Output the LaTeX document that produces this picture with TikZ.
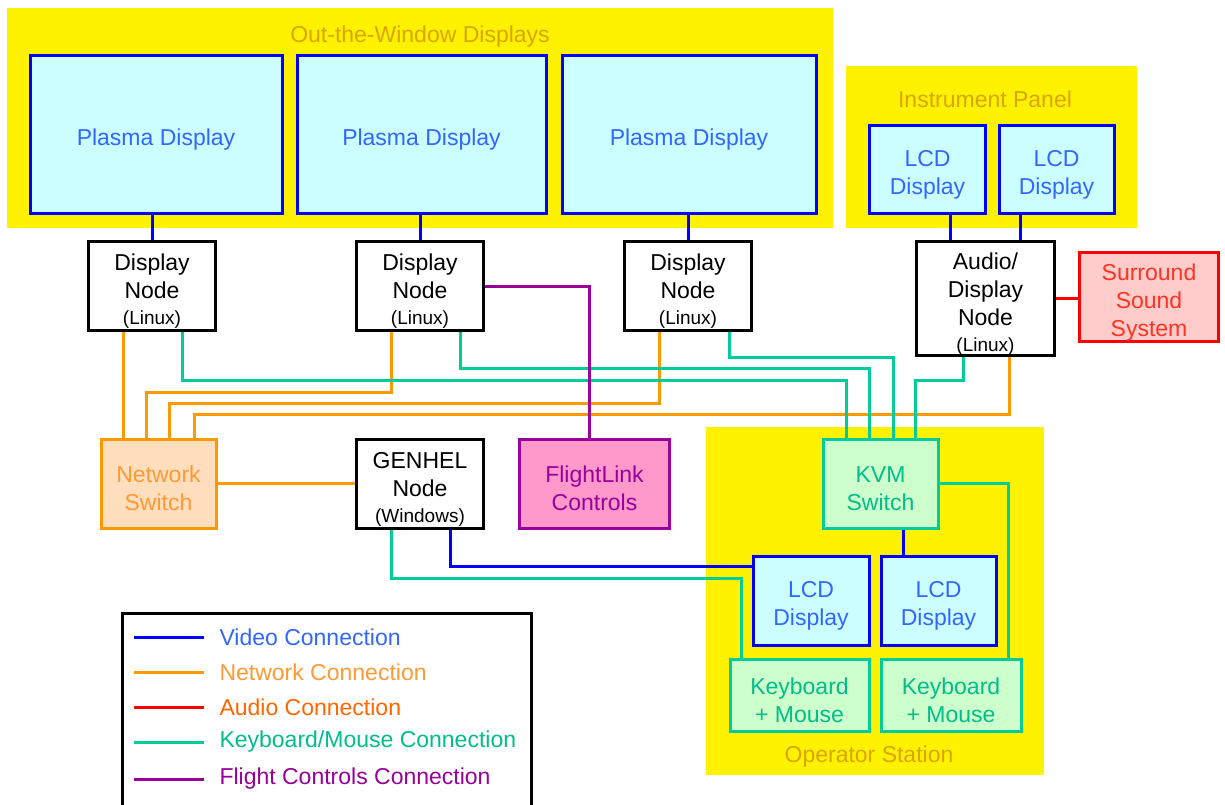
\documentclass[tikz,border=0pt]{standalone}
\usepackage{fontspec}
\setmainfont{Liberation Sans}
\usepackage{tikz}
\usepackage{color}

\definecolor{vidc}{RGB}{0,0,255}
\definecolor{netc}{RGB}{255,153,0}
\definecolor{audc}{RGB}{255,0,0}
\definecolor{kmc}{RGB}{0,204,153}
\definecolor{fltc}{RGB}{153,0,153}
\definecolor{vidtxt}{RGB}{51,102,255}
\definecolor{nettxt}{RGB}{255,153,51}
\definecolor{audtxt}{RGB}{255,102,0}
\definecolor{ssstxt}{RGB}{255,51,34}
\definecolor{kmtxt}{RGB}{0,190,140}
\definecolor{flttxt}{RGB}{153,0,153}
\definecolor{titlec}{RGB}{218,165,0}
\definecolor{scrfill}{RGB}{204,255,255}
\definecolor{nswfill}{RGB}{255,222,190}
\definecolor{sssfill}{RGB}{255,204,204}
\definecolor{fltfill}{RGB}{255,153,204}
\definecolor{kvmfill}{RGB}{204,255,204}

\newcommand{\ostag}[1]{\\[-2pt]{\fontsize{19}{22}\selectfont(#1)}}
\newcommand{\tstrut}{\rule{0pt}{27pt}}

\begin{document}
\begin{tikzpicture}[x=1pt,y=-1pt,
  every node/.style={font=\fontsize{23}{28}\selectfont},
  unit/.style={draw,line width=3pt,align=center,inner sep=0pt},
  screen/.style={unit,draw=vidc,fill=scrfill,text=vidtxt},
  pc/.style={unit,draw=black,fill=white,minimum width=127pt,minimum height=89pt},
  area/.style={fill=yellow},
  areatitle/.style={text=titlec},
  wire/.style={line width=3pt},
  vid/.style={wire,vidc}, net/.style={wire,netc}, aud/.style={wire,audc},
  km/.style={wire,kmc}, flt/.style={wire,fltc}]
\useasboundingbox (0,0) rectangle (1225,804);
\clip (0,0) rectangle (1225,804);

% yellow areas
\fill[area] (7,8) rectangle (833,228);
\fill[area] (846,66) rectangle (1137,228);
\fill[area] (706,427) rectangle (1044,775);
\node[areatitle] (otwt) at (420,37) {Out-the-Window Displays};
\node[areatitle] (ipt) at (985,99) {Instrument Panel};
\node[areatitle] (opt) at (869,757) {Operator Station};

% displays
\node[screen,minimum width=252pt,minimum height=158pt] (pd1) at (156,134) {\tstrut Plasma Display};
\node[screen,minimum width=249pt,minimum height=158pt] (pd2) at (421.5,134) {\tstrut Plasma Display};
\node[screen,minimum width=254pt,minimum height=158pt] (pd3) at (689,134) {\tstrut Plasma Display};
\node[screen,minimum width=116pt,minimum height=88pt] (lcdA) at (927.5,169) {\tstrut LCD\\Display};
\node[screen,minimum width=115pt,minimum height=88pt] (lcdB) at (1056.5,169) {\tstrut LCD\\Display};

% computers
\node[pc] (dn1) at (152,286) {\tstrut Display\\Node\ostag{Linux}};
\node[pc] (dn2) at (420,286) {\tstrut Display\\Node\ostag{Linux}};
\node[pc] (dn3) at (688,286) {\tstrut Display\\Node\ostag{Linux}};
\node[pc,minimum width=138pt,minimum height=114pt] (adn) at (985.5,298.5) {\tstrut Audio/\\Display\\Node\ostag{Linux}};
\node[pc] (gen) at (420,483.5) {\tstrut GENHEL\\Node\ostag{Windows}};

% devices
\node[unit,draw=audc,fill=sssfill,text=ssstxt,minimum width=139pt,minimum height=89pt] (sss) at (1149,297) {\tstrut Surround\\Sound\\System};
\node[unit,draw=netc,fill=nswfill,text=nettxt,minimum width=115pt,minimum height=89pt] (nsw) at (158.5,483.5) {\tstrut Network\\Switch};
\node[unit,draw=fltc,fill=fltfill,text=flttxt,minimum width=150pt,minimum height=89pt] (flc) at (594.5,483.5) {\tstrut FlightLink\\Controls};
\node[unit,draw=kmc,fill=kvmfill,text=kmtxt,minimum width=115pt,minimum height=89pt] (kvm) at (880.5,483.5) {\tstrut KVM\\Switch};
\node[screen,minimum width=116pt,minimum height=89pt] (lcdC) at (811,600.5) {\tstrut LCD\\Display};
\node[screen,minimum width=115pt,minimum height=89pt] (lcdD) at (938.5,600.5) {\tstrut LCD\\Display};
\node[unit,draw=kmc,fill=kvmfill,text=kmtxt,minimum width=139pt,minimum height=72pt] (kmA) at (799.5,695) {\tstrut Keyboard\\+ Mouse};
\node[unit,draw=kmc,fill=kvmfill,text=kmtxt,minimum width=140pt,minimum height=72pt] (kmB) at (951,695) {\tstrut Keyboard\\+ Mouse};

% video
\draw[vid] (dn1.north) to (dn1.north |- pd1.south);
\draw[vid] (dn2.north) to (dn2.north |- pd2.south);
\draw[vid] (dn3.north) to (dn3.north |- pd3.south);
\draw[vid] ([xshift=22.5pt]lcdA.south) to ([xshift=-35.5pt]adn.north);
\draw[vid] ([xshift=-36.5pt]lcdB.south) to ([xshift=34.5pt]adn.north);
\draw[vid] ([xshift=30pt]gen.south) |- ([yshift=34.5pt]lcdC.west);
\draw[vid] ([xshift=22.5pt]kvm.south) to ([xshift=-35.5pt]lcdD.north);

% network
\draw[net] ([xshift=-29pt]dn1.south) to ([xshift=-35.5pt]nsw.north);
\draw[net] ([xshift=-29pt]dn2.south) -- ++(0,60) -| ([xshift=-12.5pt]nsw.north);
\draw[net] ([xshift=-29pt]dn3.south) -- ++(0,71) -| ([xshift=10.5pt]nsw.north);
\draw[net] ([xshift=23.5pt]adn.south) -- ++(0,57) -| ([xshift=35.5pt]nsw.north);
\draw[net] (nsw.east) to (gen.west);

% audio
\draw[aud] (adn.east) to (adn.east -| sss.west);

% keyboard/mouse
\draw[km] ([xshift=30pt]dn1.south) -- ++(0,48) -| ([xshift=-34.5pt]kvm.north);
\draw[km] ([xshift=40pt]dn2.south) -- ++(0,36) -| ([xshift=-11.5pt]kvm.north);
\draw[km] ([xshift=41pt]dn3.south) -- ++(0,25) -| ([xshift=12.5pt]kvm.north);
\draw[km] ([xshift=-22.5pt]adn.south) -- ++(0,23) -| ([xshift=34.5pt]kvm.north);
\draw[km] (kvm.east) -| ([xshift=57pt]kmB.north);
\draw[km] ([xshift=-29pt]gen.south) -- ++(0,49) -| ([xshift=-58.5pt]kmA.north);

% flight controls
\draw[flt] (dn2.east) -| ([xshift=-5.5pt]flc.north);

% legend
\draw[line width=3pt] (122,613) rectangle (531,830);
\foreach \yy/\lc/\tc/\lab in {637/vidc/vidtxt/Video Connection,
  672/netc/nettxt/Network Connection, 707/audc/audtxt/Audio Connection,
  742/kmc/kmtxt/{Keyboard/Mouse Connection},
  779/fltc/flttxt/Flight Controls Connection}
{
  \draw[wire,\lc] (134,\yy) -- (204,\yy);
  \node[text=\tc,anchor=west] (leg\yy) at (216,\yy) {\lab};
}
\end{tikzpicture}
\end{document}
